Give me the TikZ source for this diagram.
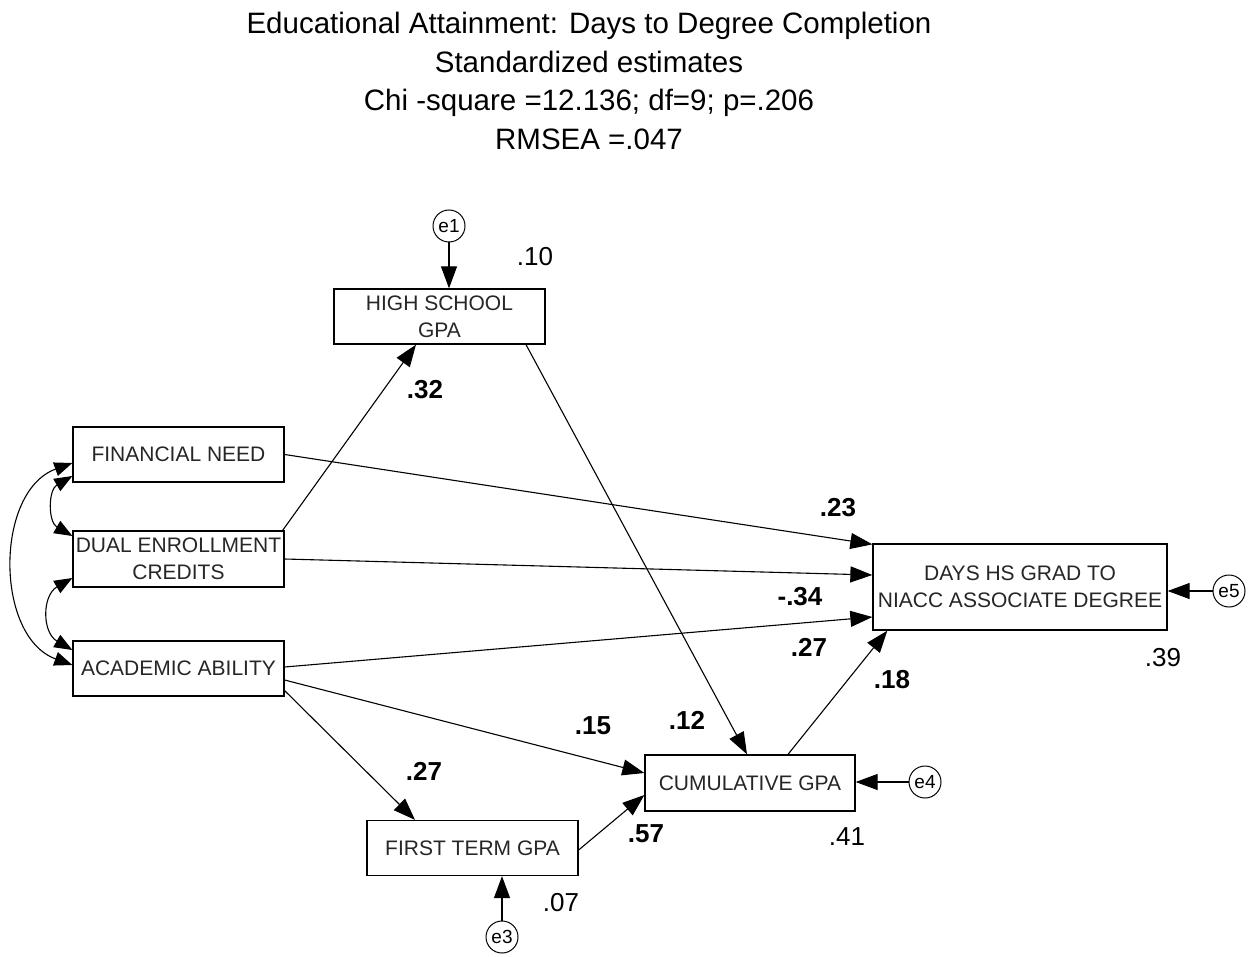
\documentclass[tikz,border=0pt]{standalone}
\usepackage{fontspec}
\setmainfont{Liberation Sans}
\usetikzlibrary{arrows.meta}
\begin{document}
\begin{tikzpicture}[x=1pt,y=-1pt,
  box/.style={draw, line width=1.3pt, rectangle, minimum width=211pt, minimum height=55pt, inner sep=0pt, align=center, font=\fontsize{21}{27}\selectfont, text=black!85},
  err/.style={draw, circle, line width=1pt, minimum size=32pt, inner sep=0pt, font=\fontsize{19}{19}\selectfont},
  arr/.style={line width=1.1pt, -{Triangle[length=22pt,width=16pt]}},
  cov/.style={line width=1.1pt, {Triangle[length=18pt,width=14pt]}-{Triangle[length=18pt,width=14pt]}},
  coef/.style={font=\fontsize{26}{26}\selectfont\bfseries},
  rsq/.style={font=\fontsize{26}{26}\selectfont},
  ttl/.style={font=\fontsize{29.5}{30}\selectfont, anchor=base}
]
\fill[white] (0,0) rectangle (1249,957);
\useasboundingbox (0,0) rectangle (1249,957);

% title
\node[ttl] (t1) at (589,34) {Educational Attainment: Days to Degree Completion};
\node[ttl] (t2) at (589,73) {Standardized estimates};
\node[ttl] (t3) at (589,111) {Chi -square =12.136; df=9; p=.206};
\node[ttl] (t4) at (589,150) {RMSEA =.047};

% boxes
\node[box] (hs) at (439.5,316.5) {HIGH SCHOOL\\GPA};
\node[box] (fin) at (178.5,454.5) {FINANCIAL NEED};
\node[box, minimum height=56pt] (dual) at (178.5,559) {DUAL ENROLLMENT\\CREDITS};
\node[box] (acad) at (178.5,668.5) {ACADEMIC ABILITY};
\node[box, minimum width=294pt, minimum height=86pt] (days) at (1020,587) {DAYS HS GRAD TO\\NIACC ASSOCIATE DEGREE};
\node[box, minimum width=210pt, minimum height=56pt] (cum) at (750,783) {CUMULATIVE GPA};
\node[box] (first) at (472.5,848) {FIRST TERM GPA};

% error terms
\node[err] (e1) at (449,226) {e1};
\node[err] (e5) at (1229,591) {e5};
\node[err] (e4) at (925,782) {e4};
\node[err] (e3) at (502,937) {e3};

% error arrows
\draw[arr] (e1.south) -- (e1.south |- hs.north);
\draw[arr] (e5.west) -- (days.east |- e5.west);
\draw[arr] (e4.west) -- (cum.east |- e4.west);
\draw[arr] (e3.north) -- (e3.north |- first.south);

% paths
\draw[arr] ([xshift=-2pt]dual.north east) -- ([xshift=-23.5pt]hs.south);
\draw[arr] (fin.east) -- ([yshift=-1pt]days.north west);
\draw[arr] (dual.east) -- ([yshift=12pt]days.west);
\draw[arr] ([yshift=1.5pt]acad.east) -- ([yshift=-30pt]days.west);
\draw[arr] ([yshift=-11.5pt]acad.east) -- ([yshift=10pt]cum.west);
\draw[arr] ([yshift=6pt]acad.south east) -- ([xshift=-57.5pt]first.north);
\draw[arr] ([xshift=86.5pt]hs.south) -- ([xshift=-3pt]cum.north);
\draw[arr] ([xshift=38pt]cum.north) -- ([xshift=15pt]days.south west);
\draw[arr] ([yshift=-2pt]first.east) -- ([yshift=-12pt]cum.west);

% covariances
\draw[cov] ([yshift=-21.5pt]fin.west) to[bend right=60, looseness=1.2] ([yshift=23pt]dual.west);
\draw[cov] ([yshift=-19pt]dual.west) to[bend right=60, looseness=1.25] ([yshift=18.5pt]acad.west);
\draw[cov] ([yshift=-8.5pt]fin.west) to[bend right=70, looseness=1.05] ([yshift=3.5pt]acad.west);

% coefficients
\node[rsq] (l10) at (535,257) {.10};
\node[coef] (l32) at (425,390) {.32};
\node[coef] (l23) at (838,508) {.23};
\node[coef] (l34) at (800,597) {-.34};
\node[coef] (l27a) at (809,647) {.27};
\node[coef] (l18) at (892,680) {.18};
\node[rsq] (l39) at (1163,658) {.39};
\node[coef] (l15) at (593,726) {.15};
\node[coef] (l12) at (687,720) {.12};
\node[coef] (l27b) at (424,771) {.27};
\node[coef] (l57) at (646,834) {.57};
\node[rsq] (l41) at (847,837) {.41};
\node[rsq] (l07) at (561,903) {.07};
\end{tikzpicture}
\end{document}
